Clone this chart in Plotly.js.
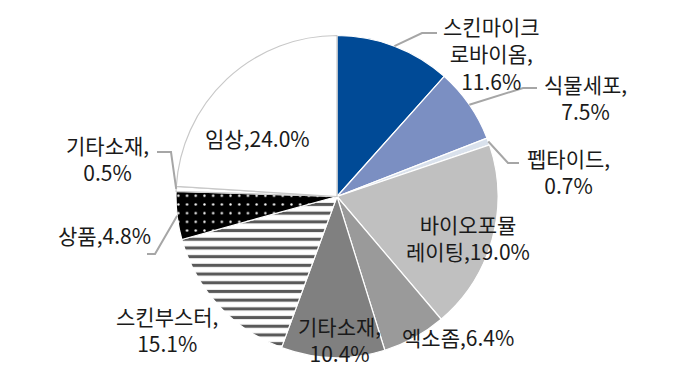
<!DOCTYPE html>
<html>
<head>
<meta charset="utf-8">
<script src="https://cdn.plot.ly/plotly-3.0.1.min.js"></script>
<style>html,body{margin:0;padding:0;background:#fff;}#chart{width:680px;height:381px;}</style>
</head>
<body>
<div id="chart"></div>
<script>
// ---- data ----
const categories = ["스킨마이크로바이옴", "식물세포", "펩타이드", "바이오포뮬레이팅", "엑소좀", "기타소재", "스킨부스터", "상품", "기타소재", "임상"];
const shares = [11.6, 7.5, 0.7, 19.0, 6.4, 10.4, 15.1, 4.8, 0.5, 24.0];
const labelLines = [
  ["스킨마이크", "로바이옴,", "11.6%"],
  ["식물세포,", "7.5%"],
  ["펩타이드,", "0.7%"],
  ["바이오포뮬", "레이팅,19.0%"],
  ["엑소좀,6.4%"],
  ["기타소재,", "10.4%"],
  ["스킨부스터,", "15.1%"],
  ["상품,4.8%"],
  ["기타소재,", "0.5%"],
  ["임상,24.0%"]
];

// ---- styles ----
const sliceColors = ["#004a96", "#7b8fc2", "#d9e1ec", "#c0c0c0", "#9a9a9a", "#808080", "#ffffff", "#000000", "#ffffff", "#ffffff"];
const patShape = ["", "", "", "", "", "", "-", ".", "", ""];
const patFg = ["#004a96", "#7b8fc2", "#d9e1ec", "#c0c0c0", "#9a9a9a", "#808080", "#595959", "#ffffff", "#ffffff", "#ffffff"];
const patBg = ["#004a96", "#7b8fc2", "#d9e1ec", "#c0c0c0", "#9a9a9a", "#808080", "#ffffff", "#000000", "#ffffff", "#ffffff"];
const lineCols = ["#ffffff", "#ffffff", "#ffffff", "#ffffff", "#ffffff", "#ffffff", "#ffffff", "#ffffff", "#c8c8c8", "#c8c8c8"];

const W = 680, H = 381;
const cx = 337, cy = 196.5, R = 161;

// label block centres (pixels)
const labelPos = [
  [491, 54], [585, 97], [568, 171], [468, 237], [458, 337],
  [339, 339], [167, 329], [104, 235], [107, 159], [257, 138]
];
// leader elbows (pixels)
const leaders = {
  0: [[422, 33], [437, 33]],
  1: [[523, 88], [537, 88]],
  2: [[508, 163], [519, 163]],
  7: [[155, 254], [147, 254]],
  8: [[171, 152], [157, 152]]
};

const total = shares.reduce((a, b) => a + b, 0);
let cum = 0;
const edgePts = shares.map(v => {
  const th = (cum + v / 2) / total * 2 * Math.PI;
  cum += v;
  return [cx + R * Math.sin(th), cy - R * Math.cos(th)];
});

const px = x => x / W, py = y => 1 - y / H;
const FONT = "Liberation Sans Narrow, Arial Narrow, Noto Sans CJK KR, sans-serif";

const annotations = labelLines.map((lines, i) => ({
  xref: "paper", yref: "paper", x: px(labelPos[i][0]), y: py(labelPos[i][1]),
  xanchor: "center", yanchor: "middle", align: "center", showarrow: false,
  text: lines.join("<br>"), font: {family: FONT, size: 21, color: "#1a1a1a"}
}));

const shapes = [];
Object.keys(leaders).forEach(k => {
  const pts = [edgePts[k]].concat(leaders[k]);
  let d = "M " + px(pts[0][0]) + "," + py(pts[0][1]);
  for (let m = 1; m < pts.length; m++) d += " L " + px(pts[m][0]) + "," + py(pts[m][1]);
  shapes.push({type: "path", xref: "paper", yref: "paper", path: d,
    line: {color: "#a6a6a6", width: 2}});
});

const trace = {
  type: "pie",
  labels: categories.map((c, i) => c + " " + i),
  values: shares,
  sort: false,
  direction: "clockwise",
  rotation: 0,
  textinfo: "none",
  hoverinfo: "none",
  showlegend: false,
  domain: {x: [(cx - R) / W, (cx + R) / W], y: [1 - (cy + R) / H, 1 - (cy - R) / H]},
  marker: {
    colors: sliceColors,
    line: {color: lineCols, width: 1.2},
    pattern: {shape: patShape, fgcolor: patFg, bgcolor: patBg, size: [8, 8, 8, 8, 8, 8, 8.7, 8.7, 8, 8], solidity: [0.3, 0.3, 0.3, 0.3, 0.3, 0.3, 0.36, 0.06, 0.3, 0.3], fillmode: "replace"}
  }
};

Plotly.newPlot("chart", [trace], {
  width: W, height: H,
  margin: {l: 0, r: 0, t: 0, b: 0},
  paper_bgcolor: "#ffffff",
  annotations: annotations,
  shapes: shapes
}, {staticPlot: true});
</script>
</body>
</html>
